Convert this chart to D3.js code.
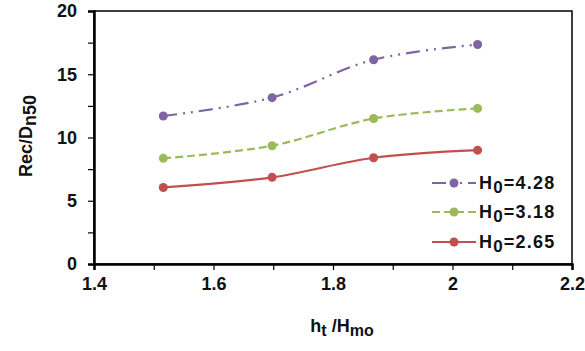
<!DOCTYPE html>
<html><head><meta charset="utf-8">
<script src="https://cdnjs.cloudflare.com/ajax/libs/d3/7.8.5/d3.min.js"></script>
<style>body{margin:0;background:#fff}text{font-family:Arial,"Liberation Sans",sans-serif;font-weight:bold}</style>
</head><body>
<svg id="c" width="585" height="351"></svg>
<script>
const xValues = [1.516, 1.698, 1.868, 2.042];
const seriesH428 = [11.7, 13.15, 16.15, 17.35];
const seriesH318 = [8.35, 9.35, 11.5, 12.3];
const seriesH265 = [6.05, 6.85, 8.4, 9.0];
const seriesLabels = ["4.28", "3.18", "2.65"];
const xTicks = [1.4, 1.6, 1.8, 2.0, 2.2];
const yTicks = [0, 5, 10, 15, 20];

const svg = d3.select("#c");
const L = 94, R = 572, T = 11, B = 264;
const x = d3.scaleLinear().domain([1.4, 2.2]).range([L, R]);
const y = d3.scaleLinear().domain([0, 20]).range([B, T]);

svg.append("rect").attr("x", L).attr("y", T).attr("width", R - L).attr("height", B - T)
  .attr("fill", "none").attr("stroke", "#000").attr("stroke-width", 1.5);

const xAxis = svg.append("g").attr("transform", `translate(0,${B})`)
  .call(d3.axisBottom(x).tickValues(d3.range(1.4, 2.2001, 0.1)).tickSize(6)
    .tickFormat(d => { const r = Math.round(d * 10) / 10; return xTicks.some(t => Math.abs(t - r) < 1e-6) ? d3.format("")(r) : ""; }));
xAxis.select(".domain").attr("stroke-width", 2.5);
xAxis.selectAll(".tick line").attr("stroke-width", 1.2);
xAxis.selectAll("text").attr("font-size", 18).attr("fill", "#111").attr("dy", "0.95em");

const yAxis = svg.append("g").attr("transform", `translate(${L},0)`)
  .call(d3.axisLeft(y).tickValues(d3.range(0, 20.001, 2.5)).tickSize(6)
    .tickFormat(d => yTicks.includes(d) ? d : ""));
yAxis.select(".domain").attr("stroke-width", 2.5);
yAxis.selectAll(".tick line").attr("stroke-width", 1.2);
yAxis.selectAll("text").attr("font-size", 18).attr("fill", "#111").attr("dx", "-0.45em");

const series = [
  { vals: seriesH428, color: "#8064A2", dash: "14,6,2,6,2,6" },
  { vals: seriesH318, color: "#9BBB59", dash: "8,4" },
  { vals: seriesH265, color: "#C0504D", dash: null }
];
const line = d3.line().x(d => x(d[0])).y(d => y(d[1])).curve(d3.curveCatmullRom.alpha(0.5));

series.forEach(s => {
  const pts = xValues.map((xv, i) => [xv, s.vals[i]]);
  svg.append("path").datum(pts).attr("d", line).attr("fill", "none")
    .attr("stroke", s.color).attr("stroke-width", 2.2)
    .attr("stroke-dasharray", s.dash);
  svg.selectAll(null).data(pts).enter().append("circle")
    .attr("cx", d => x(d[0])).attr("cy", d => y(d[1])).attr("r", 4.5).attr("fill", s.color);
});

const legY = [183, 212, 242];
series.forEach((s, i) => {
  const g = svg.append("g").attr("transform", `translate(0,${legY[i]})`);
  g.append("line").attr("x1", 432).attr("x2", 476).attr("y1", 0).attr("y2", 0)
    .attr("stroke", s.color).attr("stroke-width", 2.2).attr("stroke-dasharray", s.dash);
  g.append("circle").attr("cx", 454).attr("cy", 0).attr("r", 4.5).attr("fill", s.color);
  const t = g.append("text").attr("x", 479).attr("y", 6).attr("font-size", 18)
    .attr("letter-spacing", 1.2).attr("fill", "#111");
  t.append("tspan").text("H");
  t.append("tspan").attr("dy", 4).attr("font-size", 17).text("0");
  t.append("tspan").attr("dy", -4).text("=" + seriesLabels[i]);
});

const xt = svg.append("text").attr("x", 342).attr("y", 332).attr("text-anchor", "middle")
  .attr("font-size", 18).attr("fill", "#111");
xt.append("tspan").text("h");
xt.append("tspan").attr("dy", 4).attr("font-size", 16).text("t");
xt.append("tspan").attr("dy", -4).text(" /H");
xt.append("tspan").attr("dy", 4).attr("font-size", 16).text("mo");

const yt = svg.append("text").attr("transform", "translate(32,136) rotate(-90)")
  .attr("text-anchor", "middle").attr("font-size", 18).attr("fill", "#111");
yt.append("tspan").text("Rec/D");
yt.append("tspan").attr("dy", 4).text("n50");
</script>
</body></html>
